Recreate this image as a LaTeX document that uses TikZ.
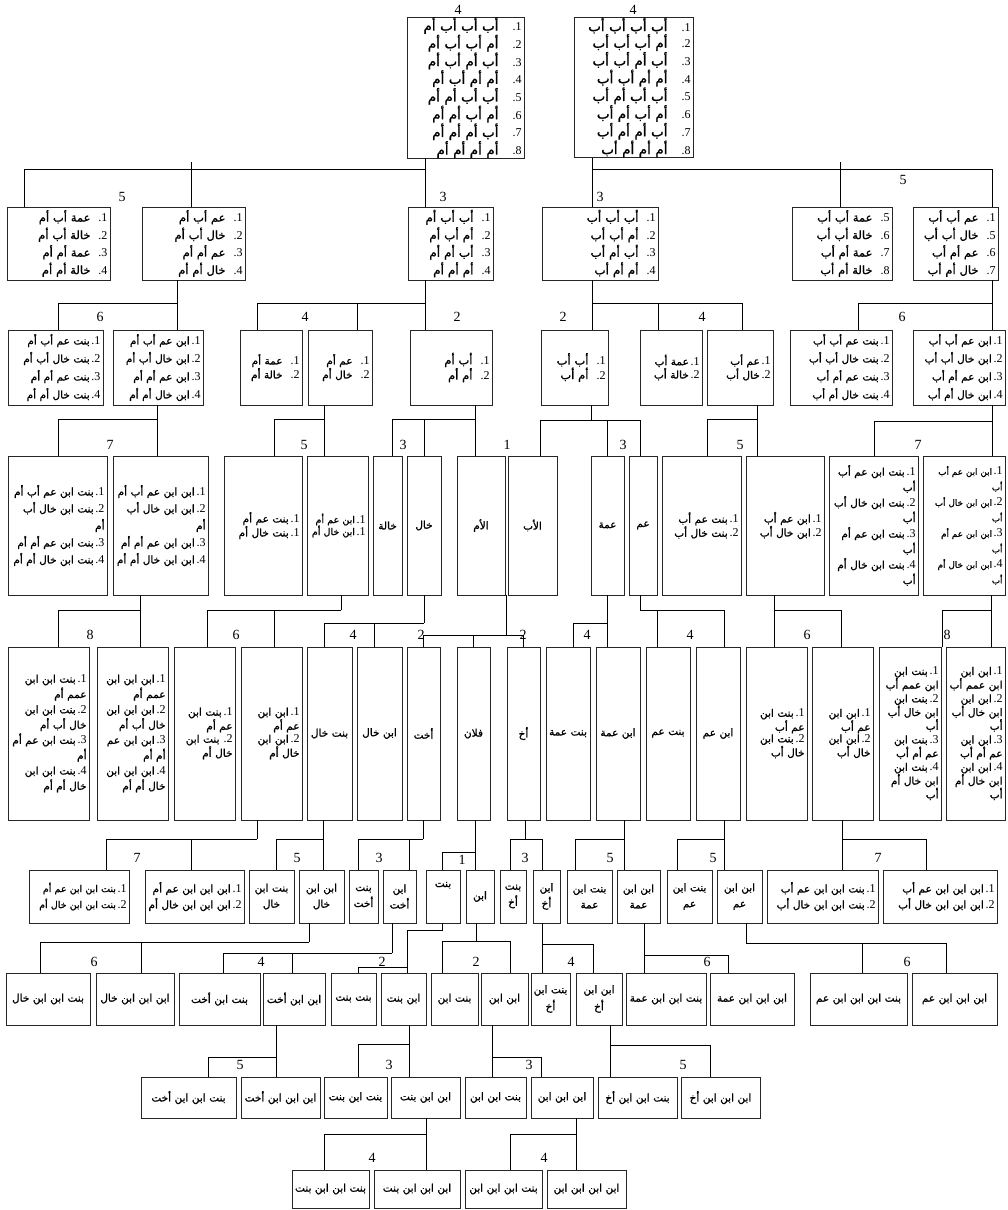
\documentclass[tikz,border=0pt]{standalone}
\usepackage{fontspec}
\setmainfont{Liberation Serif}
\newfontfamily\arabicfont[Script=Arabic,FakeBold=1.2]{DejaVu Sans}
\TeXXeTstate=1
\newcommand\ar[1]{{\arabicfont\beginR #1\endR}}
\newcommand\knum[1]{{\fontsize{12}{12}\selectfont.#1}}
\newcommand\rowg[3][8pt]{\ar{#2}\hspace{#1}\knum{#3}}
\newcommand\rowt[2]{\ar{#1}\,\knum{#2}}
\tikzset{
  kin/.style={draw=black!85,line width=0.7pt,inner xsep=2.5pt,inner ysep=0pt,align=right,
    font=\fontsize{10.5}{#1}\selectfont},
  kin/.default=15pt,
  link/.style={line width=1pt},
  gen/.style={font=\fontsize{14}{14}\selectfont,inner sep=0pt},
}
% box from its left, right, top and bottom edge (y runs down)
\newcommand\kbox[7][]{%
  \pgfmathsetlengthmacro\kw{#4-#3-5}%
  \node[kin,#1,minimum width={#4-#3},minimum height={#6-#5},text width=\kw]
    (#2) at ({(#3+#4)/2},{(#5+#6)/2}) {#7};}
% parent point, x of stem, y of bar, bar from, bar to, children
\newcommand\kinlink[6]{%
  \draw[link] (#1 -| #2,0) -- (#2,#3);
  \draw[link] (#4,#3) -- (#5,#3);
  \foreach \kid/\kx in {#6}{\draw[link] (\kx,#3) -- (\kid.north -| \kx,0);}}

\begin{document}
\begin{tikzpicture}[x=1pt,y=-1pt]
  \useasboundingbox (0,0) rectangle (1007,1210);
  % generation numbers
  \foreach \x/\y/\n in {458/10/4,633/10/4,122/197/5,443/197/3,600/197/3,903/180/5,
      100/317/6,305/317/4,457/317/2,563/317/2,702/317/4,902/317/6,
      110/445/7,304/445/5,403/445/3,507/445/1,623/445/3,740/445/5,918/445/7,
      90/635/8,236/635/6,353/635/4,421/635/2,523/635/2,587/635/4,690/635/4,807/635/6,947/635/8,
      137/858/7,297/858/5,379/858/3,462/860/1,525/858/3,610/858/5,713/858/5,878/858/7,
      94/962/6,261/962/4,382/962/2,476/962/2,571/962/4,707/962/6,907/962/6,
      240/1065/5,389/1065/3,529/1065/3,683/1065/5,372/1158/4,544/1158/4}
    \node[gen] (n\x-\y) at (\x,\y) {\n};

  % great-great-grandparents
  \kbox[kin=16.6pt,font=\fontsize{13.5}{16.6}\selectfont]{r1a}{407}{524}{22}{153}{\rowg[14pt]{أب أب أب أم}{1}\\\rowg[14pt]{أم أب أب أم}{2}\\
    \rowg[14pt]{أب أم أب أم}{3}\\\rowg[14pt]{أم أم أب أم}{4}\\\rowg[14pt]{أب أب أم أم}{5}\\
    \rowg[14pt]{أم أب أم أم}{6}\\\rowg[14pt]{أب أم أم أم}{7}\\\rowg[14pt]{أم أم أم أم}{8}}
  \kbox[kin=16.6pt,font=\fontsize{13.5}{16.6}\selectfont]{r1b}{574}{693}{22}{153}{\rowg[14pt]{أب أب أب أب}{1}\\\rowg[14pt]{أم أب أب أب}{2}\\
    \rowg[14pt]{أب أم أب أب}{3}\\\rowg[14pt]{أم أم أب أب}{4}\\\rowg[14pt]{أب أب أم أب}{5}\\
    \rowg[14pt]{أم أب أم أب}{6}\\\rowg[14pt]{أب أم أم أب}{7}\\\rowg[14pt]{أم أم أم أب}{8}}

  % row 2
  \kbox[font=\fontsize{11.5}{17.5}\selectfont]{r2a}{7}{110}{207}{280}{\rowg{عمة أب أم}{1}\\\rowg{خالة أب أم}{2}\\\rowg{عمة أم أم}{3}\\\rowg{خالة أم أم}{4}}
  \kbox[font=\fontsize{11.5}{17.5}\selectfont]{r2b}{142}{245}{207}{280}{\rowg{عم أب أم}{1}\\\rowg{خال أب أم}{2}\\\rowg{عم أم أم}{3}\\\rowg{خال أم أم}{4}}
  \kbox[font=\fontsize{12}{17.5}\selectfont]{r2c}{408}{493}{207}{280}{\rowg{أب أب أم}{1}\\\rowg{أم أب أم}{2}\\\rowg{أب أم أم}{3}\\\rowg{أم أم أم}{4}}
  \kbox[font=\fontsize{12}{17.5}\selectfont]{r2d}{542}{658}{207}{280}{\rowg{أب أب أب}{1}\\\rowg{أم أب أب}{2}\\\rowg{أب أم أب}{3}\\\rowg{أم أم أب}{4}}
  \kbox[font=\fontsize{11.5}{17.5}\selectfont]{r2e}{792}{892}{207}{280}{\rowg{عمة أب أب}{5}\\\rowg{خالة أب أب}{6}\\\rowg{عمة أم أب}{7}\\\rowg{خالة أم أب}{8}}
  \kbox[font=\fontsize{11.5}{17.5}\selectfont]{r2f}{913}{998}{207}{280}{\rowg{عم أب أب}{1}\\\rowg{خال أب أب}{5}\\\rowg{عم أم أب}{6}\\\rowg{خال أم أب}{7}}

  % row 3
  \kbox[kin=18pt]{r3a}{8}{103}{330}{405}{\rowt{بنت عم أب أم}{1}\\\rowt{بنت خال أب أم}{2}\\\rowt{بنت عم أم أم}{3}\\\rowt{بنت خال أم أم}{4}}
  \kbox[kin=18pt]{r3b}{113}{203}{330}{405}{\rowt{ابن عم أب أم}{1}\\\rowt{ابن خال أب أم}{2}\\\rowt{ابن عم أم أم}{3}\\\rowt{ابن خال أم أم}{4}}
  \kbox[kin=12pt]{r3c}{240}{302}{330}{405}{\rowg{عمة أم}{1}\\\rowg{خالة أم}{2}}
  \kbox[kin=12pt]{r3d}{308}{372}{330}{405}{\rowg{عم أم}{1}\\\rowg{خال أم}{2}}
  \kbox[kin=12pt,font=\fontsize{11.5}{13}\selectfont]{r3e}{410}{492}{330}{405}{\rowg{أب أم}{1}\\\rowg{أم أم}{2}}
  \kbox[kin=12pt,font=\fontsize{11.5}{13}\selectfont]{r3f}{541}{608}{330}{405}{\rowg{أب أب}{1}\\\rowg{أم أب}{2}}
  \kbox[kin=12pt]{r3g}{640}{702}{330}{405}{\rowt{عمة أب}{1}\\\rowt{خالة أب}{2}}
  \kbox[kin=12pt]{r3h}{707}{773}{330}{405}{\rowt{عم أب}{1}\\\rowt{خال أب}{2}}
  \kbox[kin=18pt]{r3i}{790}{892}{330}{405}{\rowt{بنت عم أب أب}{1}\\\rowt{بنت خال أب أب}{2}\\\rowt{بنت عم أم أب}{3}\\\rowt{بنت خال أم أب}{4}}
  \kbox[kin=18pt]{r3j}{913}{1005}{330}{405}{\rowt{ابن عم أب أب}{1}\\\rowt{ابن خال أب أب}{2}\\\rowt{ابن عم أم أب}{3}\\\rowt{ابن خال أم أب}{4}}

  % row 4
  \kbox[kin=17pt]{r4a}{8}{107}{456}{595}{\rowt{بنت ابن عم أب أم}{1}\\\rowt{بنت ابن خال أب}{2}\\\ar{أم}\\\rowt{بنت ابن عم أم أم}{3}\\\rowt{بنت ابن خال أم أم}{4}}
  \kbox[kin=17pt]{r4b}{113}{208}{456}{595}{\rowt{ابن ابن عم أب أم}{1}\\\rowt{ابن ابن خال أب}{2}\\\ar{أم}\\\rowt{ابن ابن عم أم أم}{3}\\\rowt{ابن ابن خال أم أم}{4}}
  \kbox[kin=12pt]{r4c}{224}{302}{456}{595}{\rowt{بنت عم أم}{1}\\\rowt{بنت خال أم}{1}}
  \kbox[font=\fontsize{9.5}{12}\selectfont]{r4d}{307}{368}{456}{595}{\rowt{ابن عم أم}{1}\\\rowt{ابن خال أم}{1}}
  \kbox[align=center]{r4e}{373}{402}{456}{595}{\ar{خالة}}
  \kbox[align=center]{r4f}{407}{441}{456}{595}{\ar{خال}}
  \kbox[align=center]{r4g}{457}{505}{456}{595}{\ar{الأم}}
  \kbox[align=center]{r4h}{508}{557}{456}{595}{\ar{الأب}}
  \kbox[align=center]{r4i}{591}{624}{456}{595}{\ar{عمة}}
  \kbox[align=center]{r4j}{629}{657}{456}{595}{\ar{عم}}
  \kbox[kin=14pt]{r4k}{662}{741}{456}{595}{\rowt{بنت عم أب}{1}\\\rowt{بنت خال أب}{2}}
  \kbox[kin=14pt]{r4l}{746}{824}{456}{595}{\rowt{ابن عم أب}{1}\\\rowt{ابن خال أب}{2}}
  \kbox[kin=15.5pt]{r4m}{829}{918}{456}{595}{\rowt{بنت ابن عم أب}{1}\\\ar{أب}\\\rowt{بنت ابن خال أب}{2}\\\ar{أب}\\
    \rowt{بنت ابن عم أم}{3}\\\ar{أب}\\\rowt{بنت ابن خال أم}{4}\\\ar{أب}}
  \kbox[font=\fontsize{8.8}{15.5}\selectfont]{r4n}{923}{1005}{456}{595}{\rowt{ابن ابن عم أب}{1}\\\ar{أب}\\\rowt{ابن ابن خال أب}{2}\\\ar{أب}\\
    \rowt{ابن ابن عم أم}{3}\\\ar{أب}\\\rowt{ابن ابن خال أم}{4}\\\ar{أب}}

  % row 5
  \kbox[kin=15.3pt]{r5a}{8}{89}{647}{820}{\rowt{بنت ابن ابن}{1}\\\ar{عمم أم}\\\rowt{بنت ابن ابن}{2}\\\ar{خال أب أم}\\
    \rowt{بنت ابن عم أم}{3}\\\ar{أم}\\\rowt{بنت ابن ابن}{4}\\\ar{خال أم أم}}
  \kbox[kin=15.3pt]{r5b}{97}{168}{647}{820}{\rowt{ابن ابن ابن}{1}\\\ar{عمم أم}\\\rowt{ابن ابن ابن}{2}\\\ar{خال أب أم}\\
    \rowt{ابن ابن عم}{3}\\\ar{أم أم}\\\rowt{ابن ابن ابن}{4}\\\ar{خال أم أم}}
  \kbox[kin=13pt]{r5c}{174}{235}{647}{820}{\rowt{بنت ابن}{1}\\\ar{عم أم}\\\rowg[4pt]{بنت ابن}{2}\\\ar{خال أم}}
  \kbox[kin=13pt]{r5d}{241}{302}{647}{820}{\rowt{ابن ابن}{1}\\\ar{عم أم}\\\rowt{ابن ابن}{2}\\\ar{خال أم}}
  \kbox[align=center]{r5e}{307}{352}{647}{820}{\ar{بنت خال}}
  \kbox[align=center]{r5f}{357}{402}{647}{820}{\ar{ابن خال}}
  \kbox[align=center]{r5g}{407}{440}{647}{820}{\ar{أخت}}
  \kbox[align=center]{r5h}{457}{490}{647}{820}{\ar{فلان}}
  \kbox[align=center]{r5i}{507}{540}{647}{820}{\ar{أخ}}
  \kbox[align=center]{r5j}{546}{590}{647}{820}{\ar{بنت عمة}}
  \kbox[align=center]{r5k}{596}{640}{647}{820}{\ar{ابن عمة}}
  \kbox[align=center]{r5l}{646}{690}{647}{820}{\ar{بنت عم}}
  \kbox[align=center]{r5m}{696}{740}{647}{820}{\ar{ابن عم}}
  \kbox[kin=11.5pt]{r5n}{746}{807}{647}{820}{\rowt{بنت ابن}{1}\\\ar{عم أب}\\\rowt{بنت ابن}{2}\\\ar{خال أب}}
  \kbox[kin=11.5pt]{r5o}{812}{873}{647}{820}{\rowt{ابن ابن}{1}\\\ar{عم أب}\\\rowt{ابن ابن}{2}\\\ar{خال أب}}
  \kbox[kin=13.7pt]{r5p}{879}{941}{647}{820}{\rowt{بنت ابن}{1}\\\ar{ابن عمم أب}\\\rowt{بنت ابن}{2}\\\ar{ابن خال أب}\\\ar{أب}\\
    \rowt{بنت ابن}{3}\\\ar{عم أم أب}\\\rowt{بنت ابن}{4}\\\ar{ابن خال أم}\\\ar{أب}}
  \kbox[kin=13.7pt]{r5q}{946}{1005}{647}{820}{\rowt{ابن ابن}{1}\\\ar{ابن عمم أب}\\\rowt{ابن ابن}{2}\\\ar{ابن خال أب}\\\ar{أب}\\
    \rowt{ابن ابن}{3}\\\ar{عم أم أب}\\\rowt{ابن ابن}{4}\\\ar{ابن خال أم}\\\ar{أب}}

  % row 6
  \kbox[font=\fontsize{9.5}{16}\selectfont]{r6a}{29}{129}{870}{923}{\rowt{بنت ابن ابن عم أم}{1}\\\rowt{بنت ابن ابن خال أم}{2}}
  \kbox[kin=16pt]{r6b}{145}{244}{870}{923}{\rowt{ابن ابن ابن عم أم}{1}\\\rowt{ابن ابن ابن خال أم}{2}}
  \kbox[kin=16pt,align=center]{r6c}{249}{294}{870}{923}{\ar{بنت ابن}\\\ar{خال}}
  \kbox[kin=16pt,align=center]{r6d}{299}{344}{870}{923}{\ar{ابن ابن}\\\ar{خال}}
  \kbox[kin=16pt,align=center]{r6e}{349}{378}{870}{923}{\ar{بنت}\\\ar{أخت}}
  \kbox[kin=16pt,align=center]{r6f}{383}{416}{870}{923}{\ar{ابن}\\\ar{أخت}}
  \kbox[align=center]{r6g}{426}{460}{870}{923}{\raisebox{0pt}[\height][24pt]{\ar{بنت}}}
  \kbox[align=center]{r6h}{466}{494}{870}{923}{\ar{ابن}}
  \kbox[kin=16pt,align=center]{r6i}{500}{526}{870}{923}{\ar{بنت}\\\ar{أخ}}
  \kbox[kin=16pt,align=center]{r6j}{533}{560}{870}{923}{\ar{ابن}\\\ar{أخ}}
  \kbox[kin=16pt,align=center]{r6k}{567}{612}{870}{923}{\ar{بنت ابن}\\\ar{عمة}}
  \kbox[kin=16pt,align=center]{r6l}{617}{660}{870}{923}{\ar{ابن ابن}\\\ar{عمة}}
  \kbox[kin=16pt,align=center]{r6m}{667}{712}{870}{923}{\ar{بنت ابن}\\\ar{عم}}
  \kbox[kin=16pt,align=center]{r6n}{717}{762}{870}{923}{\ar{ابن ابن}\\\ar{عم}}
  \kbox[kin=16pt]{r6o}{767}{878}{870}{923}{\rowt{بنت ابن ابن عم أب}{1}\\\rowt{بنت ابن ابن خال أب}{2}}
  \kbox[kin=16pt]{r6p}{883}{997}{870}{923}{\rowt{ابن ابن ابن عم أب}{1}\\\rowt{ابن ابن ابن خال أب}{2}}

  % row 7
  \kbox[align=center]{r7a}{6}{90}{973}{1025}{\ar{بنت ابن ابن خال}}
  \kbox[align=center]{r7b}{96}{174}{973}{1025}{\ar{ابن ابن ابن خال}}
  \kbox[align=center]{r7c}{179}{260}{973}{1025}{\ar{بنت ابن أخت}}
  \kbox[align=center]{r7d}{263}{325}{973}{1025}{\ar{ابن ابن أخت}}
  \kbox[align=center]{r7e}{331}{376}{973}{1025}{\ar{بنت بنت}}
  \kbox[align=center]{r7f}{381}{426}{973}{1025}{\ar{ابن بنت}}
  \kbox[align=center]{r7g}{431}{478}{973}{1025}{\ar{بنت ابن}}
  \kbox[align=center]{r7h}{481}{528}{973}{1025}{\ar{ابن ابن}}
  \kbox[kin=17pt,align=center]{r7i}{531}{570}{973}{1025}{\ar{بنت ابن}\\\ar{أخ}}
  \kbox[kin=17pt,align=center]{r7j}{576}{622}{973}{1025}{\ar{ابن ابن}\\\ar{أخ}}
  \kbox[align=center]{r7k}{626}{706}{973}{1025}{\ar{بنت ابن ابن عمة}}
  \kbox[align=center]{r7l}{710}{794}{973}{1025}{\ar{ابن ابن ابن عمة}}
  \kbox[align=center]{r7m}{810}{907}{973}{1025}{\ar{بنت ابن ابن ابن عم}}
  \kbox[align=center]{r7n}{912}{997}{973}{1025}{\ar{ابن ابن ابن عم}}

  % row 8
  \kbox[align=center]{r8a}{141}{236}{1077}{1118}{\ar{بنت ابن ابن أخت}}
  \kbox[align=center]{r8b}{241}{320}{1077}{1118}{\ar{ابن ابن ابن أخت}}
  \kbox[align=center]{r8c}{324}{387}{1077}{1118}{\ar{بنت ابن بنت}}
  \kbox[align=center]{r8d}{391}{460}{1077}{1118}{\ar{ابن ابن بنت}}
  \kbox[align=center]{r8e}{465}{526}{1077}{1118}{\ar{بنت ابن ابن}}
  \kbox[align=center]{r8f}{531}{593}{1077}{1118}{\ar{ابن ابن ابن}}
  \kbox[align=center]{r8g}{598}{677}{1077}{1118}{\ar{بنت ابن ابن أخ}}
  \kbox[align=center]{r8h}{681}{760}{1077}{1118}{\ar{ابن ابن ابن أخ}}

  % row 9
  \kbox[align=center]{r9a}{292}{369}{1170}{1208}{\ar{بنت ابن ابن بنت}}
  \kbox[align=center]{r9b}{374}{460}{1170}{1208}{\ar{ابن ابن ابن بنت}}
  \kbox[align=center]{r9c}{465}{542}{1170}{1208}{\ar{بنت ابن ابن ابن}}
  \kbox[align=center]{r9d}{547}{626}{1170}{1208}{\ar{ابن ابن ابن ابن}}

  % connectors
  \kinlink{r1a.south}{425}{169}{24}{425}{r2a/24,r2b/191,r2c/425}
  \kinlink{r1b.south}{592}{169}{592}{992}{r2d/592,r2e/840,r2f/992}
  \draw[link] (r2b.north -| 191,0) -- (191,162);
  \draw[link] (r2e.north -| 840,0) -- (840,162);
  \kinlink{r2b.south}{177}{303}{58}{177}{r3a/58,r3b/177}
  \kinlink{r2c.south}{425}{303}{257}{425}{r3c/257,r3d/357,r3e/425}
  \kinlink{r2d.south}{592}{303}{592}{742}{r3f/592,r3g/658,r3h/742}
  \kinlink{r2f.south}{992}{303}{858}{992}{r3i/858,r3j/992}
  \kinlink{r3b.south}{157}{419}{58}{157}{r4a/58,r4b/157}
  \kinlink{r3d.south}{324}{419}{274}{324}{r4c/274,r4d/324}
  \kinlink{r3e.south}{475}{419}{392}{475}{r4e/392,r4f/424,r4g/475}
  \kinlink{r3f.south}{591}{420}{540}{640}{r4h/540,r4i/607,r4j/640}
  \kinlink{r3h.south}{757}{419}{707}{757}{r4k/707,r4l/757}
  \kinlink{r3j.south}{992}{421}{874}{992}{r4m/874,r4n/992}
  \coordinate (pa) at (506.5,595);
  \kinlink{r4b.south}{140}{610}{58}{140}{r5a/58,r5b/140}
  \kinlink{r4d.south}{341}{610}{207}{341}{r5c/207,r5d/274}
  \kinlink{r4f.south}{424}{623}{324}{424}{r5e/324,r5f/374}
  \kinlink{pa}{506.5}{635}{423}{523}{r5g/423,r5h/473,r5i/523}
  \kinlink{r4i.south}{607}{623}{573}{607}{r5j/573,r5k/607}
  \kinlink{r4j.south}{640}{610}{640}{724}{r5l/657,r5m/724}
  \kinlink{r4l.south}{774}{610}{774}{841}{r5n/774,r5o/841}
  \kinlink{r4n.south}{991}{610}{942}{991}{r5p/942,r5q/991}
  \kinlink{r5d.south}{257}{839}{106}{257}{r6a/106,r6b/191}
  \kinlink{r5e.south}{323}{839}{276}{323}{r6c/276,r6d/323}
  \kinlink{r5g.south}{423}{839}{358}{423}{r6e/358,r6f/409}
  \kinlink{r5h.south}{475}{852}{442}{475}{r6g/442,r6h/475}
  \kinlink{r5i.south}{525}{839}{510}{542}{r6i/510,r6j/542}
  \kinlink{r5k.south}{624}{839}{575}{624}{r6k/575,r6l/624}
  \kinlink{r5m.south}{724}{839}{677}{724}{r6m/677,r6n/724}
  \kinlink{r5o.south}{842}{839}{842}{926}{r6o/842,r6p/926}
  \kinlink{r6d.south}{309}{942}{40}{309}{r7a/40,r7b/141}
  \kinlink{r6f.south}{392}{953}{223}{392}{r7c/223,r7d/292}
  \coordinate (pb) at (407,930);
  \draw[link] (r6g.south -| 442,0) |- (pb);
  \kinlink{pb}{407}{967}{358}{407}{r7e/358,r7f/407}
  \kinlink{r6h.south}{476}{941}{442}{510}{r7g/442,r7h/510}
  \kinlink{r6j.south}{542}{944}{542}{593}{r7i/542,r7j/593}
  \kinlink{r6l.south}{644}{955}{644}{728}{r7k/644,r7l/728}
  \kinlink{r6n.south}{746}{943}{746}{946}{r7m/862,r7n/946}
  \kinlink{r7d.south}{276}{1057}{208}{276}{r8a/208,r8b/276}
  \kinlink{r7f.south}{409}{1044}{358}{409}{r8c/358,r8d/409}
  \kinlink{r7h.south}{492}{1057}{492}{541}{r8e/492,r8f/541}
  \kinlink{r7j.south}{610}{1045}{610}{710}{r8g/610,r8h/710}
  \kinlink{r8d.south}{426}{1134}{324}{426}{r9a/324,r9b/426}
  \kinlink{r8f.south}{576}{1134}{510}{576}{r9c/510,r9d/576}
\end{tikzpicture}
\end{document}
